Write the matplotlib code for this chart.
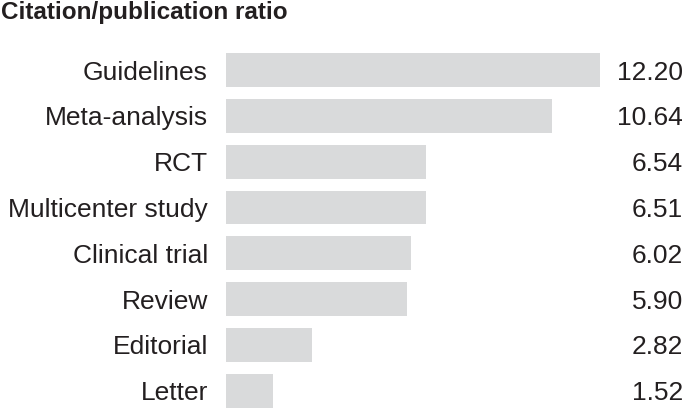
import matplotlib
matplotlib.use("Agg")
import matplotlib.pyplot as plt
from matplotlib.transforms import blended_transform_factory

categories = ["Guidelines", "Meta-analysis", "RCT", "Multicenter study",
              "Clinical trial", "Review", "Editorial", "Letter"]
values = [12.20, 10.64, 6.54, 6.51, 6.02, 5.90, 2.82, 1.52]
value_labels = ["12.20", "10.64", "6.54", "6.51", "6.02", "5.90", "2.82", "1.52"]
title = "Citation/publication ratio"

plt.rcParams['font.family'] = ['Liberation Sans', 'DejaVu Sans']
W, H = 685, 409
fig = plt.figure(figsize=(W / 100, H / 100), dpi=100)
text_color = "#231f20"
bar_color = "#d9dadb"

ax_left = 226 / W
ax_w = (600 - 226) / W
ax_top = 47.1
ax_bottom = 409
ax = fig.add_axes([ax_left, 0, ax_w, 1 - ax_top / H])
ypos = list(range(len(categories)))
ax.barh(ypos, values, height=0.74, color=bar_color, edgecolor="none")
ax.set_xlim(0, 12.20)
ax.set_ylim(7.397, -0.5)
ax.set_yticks(ypos)
ax.set_yticklabels(categories, fontsize=19, color=text_color)
ax.tick_params(axis='y', length=0, pad=13)
ax.set_xticks([])
for s in ax.spines.values():
    s.set_visible(False)

trans = blended_transform_factory(fig.transFigure, ax.transData)
for y, lab in zip(ypos, value_labels):
    ax.text(683 / W, y, lab, transform=trans, ha='right', va='center_baseline',
            fontsize=19, color=text_color)

fig.text(1 / W, 1 - 19 / H, title, ha='left', va='baseline', fontsize=17.5,
         fontweight='bold', color=text_color)

fig.savefig("out.png", dpi=100)
